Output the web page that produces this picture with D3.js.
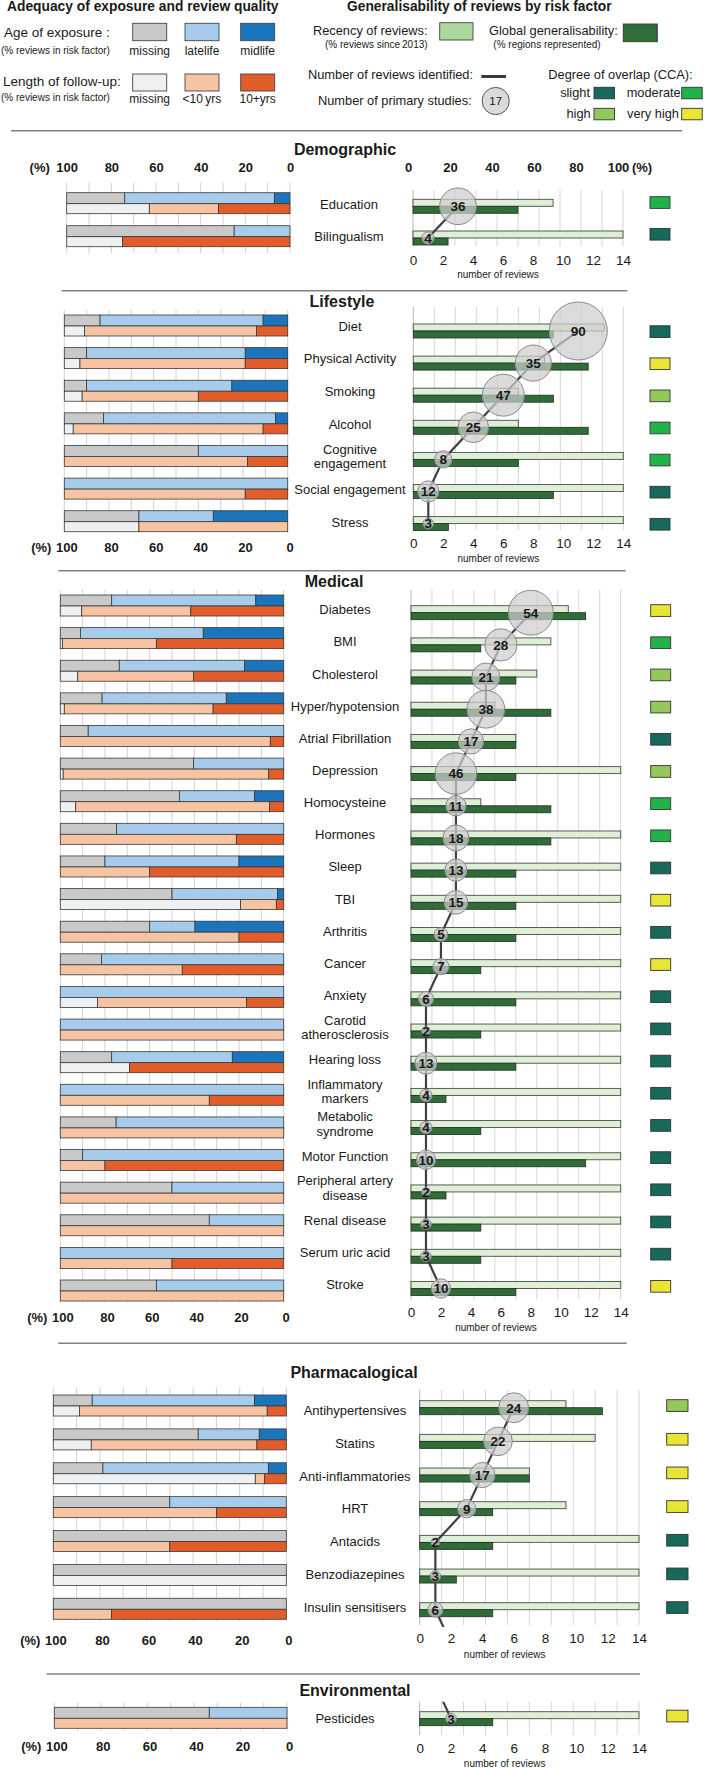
<!DOCTYPE html>
<html><head><meta charset="utf-8">
<script src="https://cdn.jsdelivr.net/npm/d3@7"></script>
<style>
body{margin:0;background:#fff}
svg{display:block}
text{font-family:"Liberation Sans",Arial,Helvetica,sans-serif;fill:#1a1a1a}
</style>
</head><body>
<svg id="chart" width="708" height="1768"></svg>
<script>
// ---------------- DATA ----------------
const sectionNames = ["Demographic","Lifestyle","Medical","Pharmacalogical","Environmental"];
const riskFactors = [
 "Education","Bilingualism",
 "Diet","Physical Activity","Smoking","Alcohol","Cognitive\nengagement","Social engagement","Stress",
 "Diabetes","BMI","Cholesterol","Hyper/hypotension","Atrial Fibrillation","Depression","Homocysteine",
 "Hormones","Sleep","TBI","Arthritis","Cancer","Anxiety","Carotid\natherosclerosis","Hearing loss",
 "Inflammatory\nmarkers","Metabolic\nsyndrome","Motor Function","Peripheral artery\ndisease",
 "Renal disease","Serum uric acid","Stroke",
 "Antihypertensives","Statins","Anti-inflammatories","HRT","Antacids","Benzodiazepines","Insulin sensitisers",
 "Pesticides"
];
const factorSection = [0,0, 1,1,1,1,1,1,1, 2,2,2,2,2,2,2,2,2,2,2,2,2,2,2,2,2,2,2,2,2,2, 3,3,3,3,3,3,3, 4];
// Age of exposure (% reviews): missing, latelife, midlife
const ageMissing  = [26,75, 16,10,10,17.6,60,0,33.4, 23,9,26.4,18.7,12.5,59.6,53.3,25.2,20,50,40,18.5,0,0,23,0,25,10,50,66.7,0,43, 16.7,62.2,21.3,50,100,100,100, 66.6];
const ageLatelife = [67,25, 73,71,65,77,40,100,33.3, 64.5,55,56.1,55.6,87.5,40.4,33.6,74.8,60,47.2,20.3,81.5,100,100,54,100,75,90,50,33.3,100,57, 69.6,26.2,71,50,0,0,0, 33.4];
const ageMidlife  = [7,0, 11,19,25,5.4,0,0,33.3, 12.5,36,17.5,25.7,0,0,13.1,0,20,2.8,39.7,0,0,0,23,0,0,0,0,0,0,0, 13.7,11.6,7.7,0,0,0,0, 0];
// Length of follow-up (% reviews): missing, <10yrs, 10+yrs
const fuMissing = [37,25, 9,7,8,4,0,0,33.4, 9.6,1,7.8,1.8,0,1.3,6.9,0,0,80.7,0,0,16.7,0,31,0,0,0,0,0,0,0, 11.2,16.3,86.7,0,0,100,0, 0];
const fuUnder10 = [31,0, 77,74,52,85,82,81,66.6, 48.8,42,51.8,66.6,94,92,86.7,78.8,40,16,80,54.6,66.7,100,0,66.7,100,20,100,100,50,100, 80.6,71.1,3.9,70,50,0,25, 100];
const fuOver10  = [32,75, 14,19,40,11,18,19,0, 41.6,57,40.4,31.6,6,6.7,6.4,21.2,60,3.3,20,45.4,16.6,0,69,33.3,0,80,0,0,50,0, 8.2,12.6,9.4,30,50,0,75, 0];
// Generalisability
const recencyPct = [66.7,100, 90.9,62.5,50,50,100,100,100, 75,66.7,60,40,50,100,33.3,100,100,100,100,100,100,100,100,100,100,100,100,100,100,100, 66.7,80,50,66.7,100,100,100, 100];
const globalPct  = [50,16.7, 66.7,83.3,66.7,83.3,50,66.7,16.7, 83.3,33.3,50,66.7,50,50,66.7,66.7,50,50,50,33.3,50,33.3,50,16.7,33.3,83.3,16.7,33.3,33.3,50, 83.3,33.3,50,33.3,33.3,16.7,33.3, 33.3];
const numReviews = [3,1, 11,8,6,4,2,1,1, 8,6,5,5,4,3,3,3,3,3,2,2,1,1,1,1,1,1,1,1,1,2, 6,5,4,3,1,1,1, 2];
const numStudies = [36,4, 90,35,47,25,8,12,3, 54,28,21,38,17,46,11,18,13,15,5,7,6,2,13,4,4,10,2,3,3,10, 24,22,17,9,2,3,6, 3];
const ccaLevel = ["moderate","slight",
 "slight","very high","high","moderate","moderate","slight","slight",
 "very high","moderate","high","high","slight","high","moderate","moderate","slight","very high","slight","very high",
 "slight","slight","slight","slight","slight","slight","slight","slight","slight","very high",
 "high","very high","very high","very high","slight","slight","slight",
 "very high"];
const leftTicks = [100,80,60,40,20,0];
const rightPctTicks = [0,20,40,60,80,100];
const reviewTicks = [0,2,4,6,8,10,12,14];
const ccaLegend = ["slight","moderate","high","very high"];
const legendStudies = 17;
const pharmaLineNext = 2;   // line continues off-panel towards next value
const envLinePrev = 1;      // line enters from previous value

// ---------------- STYLE / LAYOUT ----------------
const ageColors = ["#c9c9c9","#a6cbeb","#1b75bc"];
const fuColors  = ["#eef0f2","#f6c4a2","#e35d2b"];
const recencyColor = "#ddefd4", recencyLegendColor = "#add89d";
const globalColor = "#2e6d36";
const ccaColors = {"slight":"#17695b","moderate":"#22b24c","high":"#93c95b","very high":"#e9e535"};

const layout = [
 {sepY:130.7, sepX:[11,682], titleX:345, titleY:155, lx:[66.7,290], lTop:192.7, lPitch:33, lGrid:[182.7,253.3],
  rx:[413,623], rTop:199.3, rPitch:31.7, rGrid:[190,246], topAxisY:172.3, lAxisY:null, rAxisY:265, nrY:278.3,
  ccaX:650, ccaW:20, ccaDy:-2.6, labelX:349, labY:209, labPitch:31.7},
 {sepY:290.7, sepX:[61.7,627.3], titleX:342, titleY:307, lx:[64.3,287.7], lTop:315, lPitch:32.62, lGrid:[310,531],
  rx:[413.3,623.3], rTop:324, rPitch:32.1, rGrid:[306.7,530], lAxisY:551.7, rAxisY:548.3, nrY:561.7,
  ccaX:650, ccaW:20, ccaDy:1.8, labelX:350, labY:330.7, labPitch:32.67},
 {sepY:570.7, sepX:[58.3,625.7], titleX:334, titleY:587, lx:[60.3,283.7], lTop:595, lPitch:32.62, lGrid:[590,1302.7],
  rx:[411,620.7], rTop:605.7, rPitch:32.18, rGrid:[590,1299.3], lAxisY:1321.7, rAxisY:1316.7, nrY:1331,
  ccaX:650.7, ccaW:20, ccaDy:-1, labelX:345, labY:614.3, labPitch:32.14},
 {sepY:1343.3, sepX:[58.3,626.7], titleX:354, titleY:1378.3, lx:[53.3,286.3], lTop:1395, lPitch:33.88, lGrid:[1387.3,1621],
  rx:[419.7,639], rTop:1400.7, rPitch:33.67, rGrid:[1390,1625], lAxisY:1645, rAxisY:1643.3, nrY:1658.3,
  ccaX:666.7, ccaW:21.3, ccaDy:-1, labelX:355, labY:1415, labPitch:32.8, clipBottom:1627},
 {sepY:1674, sepX:[46.7,640], titleX:355, titleY:1696, lx:[54.3,287], lTop:1707.3, lPitch:34, lGrid:[1702.7,1730.7],
  rx:[419.7,639], rTop:1711.7, rPitch:34, rGrid:[1701.7,1735], lAxisY:1750.7, rAxisY:1753.3, nrY:1766.7,
  ccaX:666.7, ccaW:21.3, ccaDy:-1.5, labelX:345, labY:1723.3, labPitch:34, clipTop:1701.7}
];

const svg = d3.select("#chart");
const rScale = d3.scaleSqrt().domain([0,90]).range([0,29]);

// ---------------- LEGEND ----------------
const lg = svg.append("g");
lg.append("text").attr("x",7).attr("y",10.5).attr("font-size",13.8).attr("font-weight","bold").text("Adequacy of exposure and review quality");
lg.append("text").attr("x",4).attr("y",36.5).attr("font-size",13.5).text("Age of exposure :");
lg.append("text").attr("x",1).attr("y",53.5).attr("font-size",10).text("(% reviews in risk factor)");
lg.append("text").attr("x",3).attr("y",85.5).attr("font-size",13.5).text("Length of follow-up:");
lg.append("text").attr("x",1).attr("y",100.5).attr("font-size",10).text("(% reviews in risk factor)");
const swX = [132.7,185,240.7];
const ageLab = ["missing","latelife","midlife"], fuLab = ["missing","<10\u2009yrs","10+yrs"];
swX.forEach((x,j)=>{
  lg.append("rect").attr("x",x).attr("y",23.3).attr("width",34).attr("height",17.4).attr("fill",ageColors[j]).attr("stroke","#444").attr("stroke-width",0.9);
  lg.append("text").attr("x",x+17).attr("y",55).attr("text-anchor","middle").attr("font-size",12).text(ageLab[j]);
  lg.append("rect").attr("x",x).attr("y",74).attr("width",34).attr("height",17).attr("fill",fuColors[j]).attr("stroke","#444").attr("stroke-width",0.9);
  lg.append("text").attr("x",x+17).attr("y",103).attr("text-anchor","middle").attr("font-size",12).text(fuLab[j]);
});
lg.append("text").attr("x",347).attr("y",10.5).attr("font-size",13.8).attr("font-weight","bold").text("Generalisability of reviews by risk factor");
lg.append("text").attr("x",313).attr("y",35).attr("font-size",12.8).text("Recency of reviews:");
lg.append("text").attr("x",325).attr("y",47.5).attr("font-size",10).text("(% reviews since\u20092013)");
lg.append("rect").attr("x",439.7).attr("y",22.7).attr("width",33.3).attr("height",17.3).attr("fill",recencyLegendColor).attr("stroke","#444").attr("stroke-width",0.9);
lg.append("text").attr("x",489).attr("y",35).attr("font-size",12.8).text("Global generalisability:");
lg.append("text").attr("x",547).attr("y",47.5).attr("text-anchor","middle").attr("font-size",10).text("(% regions represented)");
lg.append("rect").attr("x",623.3).attr("y",24).attr("width",34).attr("height",17.7).attr("fill",globalColor).attr("stroke","#333").attr("stroke-width",0.9);
lg.append("text").attr("x",308).attr("y",78.5).attr("font-size",12.8).text("Number of reviews identified:");
lg.append("line").attr("x1",481.3).attr("x2",506).attr("y1",76.5).attr("y2",76.5).attr("stroke","#3a3a3a").attr("stroke-width",3);
lg.append("text").attr("x",318).attr("y",105).attr("font-size",12.8).text("Number of primary studies:");
lg.append("circle").attr("cx",495.7).attr("cy",101).attr("r",rScale(legendStudies)+1).attr("fill","#dadada").attr("stroke","#555").attr("stroke-width",1);
lg.append("text").attr("x",495.7).attr("y",105).attr("text-anchor","middle").attr("font-size",11.5).text(legendStudies);
lg.append("text").attr("x",548.3).attr("y",78.5).attr("font-size",12.8).text("Degree of overlap (CCA):");
const ccaLegPos = [{tx:590,sx:594,ty:97,sy:87.3},{tx:680.7,sx:681.7,ty:97,sy:87.3},{tx:590.7,sx:594,ty:117.5,sy:108.3},{tx:679,sx:681.7,ty:117.5,sy:108.3}];
ccaLegend.forEach((c,j)=>{
  const p = ccaLegPos[j];
  lg.append("text").attr("x",p.tx).attr("y",p.ty).attr("text-anchor","end").attr("font-size",12.8).text(c);
  lg.append("rect").attr("x",p.sx).attr("y",p.sy).attr("width",20.5).attr("height",11.5).attr("fill",ccaColors[c]).attr("stroke","#333").attr("stroke-width",0.9);
});

// ---------------- SECTIONS ----------------
const defs = svg.append("defs");
sectionNames.forEach((name, si) => {
  const L = layout[si];
  const idx = riskFactors.map((d,i)=>i).filter(i=>factorSection[i]===si);
  const g = svg.append("g");
  const xL = d3.scaleLinear().domain([100,0]).range(L.lx);
  const xR = d3.scaleLinear().domain([0,100]).range(L.rx);
  const xN = d3.scaleLinear().domain([0,14]).range(L.rx);

  g.append("line").attr("x1",L.sepX[0]).attr("x2",L.sepX[1]).attr("y1",L.sepY).attr("y2",L.sepY)
    .attr("stroke","#808080").attr("stroke-width",1.5);
  g.append("text").attr("x",L.titleX).attr("y",L.titleY).attr("text-anchor","middle")
    .attr("font-size",16).attr("font-weight","bold").text(name);

  // grids
  g.selectAll(".lgrid").data(d3.range(0,101,10)).join("line").attr("class","lgrid")
    .attr("x1",d=>xL(d)).attr("x2",d=>xL(d)).attr("y1",L.lGrid[0]).attr("y2",L.lGrid[1])
    .attr("stroke","#d2d2d2").attr("stroke-width",1);
  g.selectAll(".rgrid").data(d3.range(0,101,10)).join("line").attr("class","rgrid")
    .attr("x1",d=>xR(d)).attr("x2",d=>xR(d)).attr("y1",L.rGrid[0]).attr("y2",L.rGrid[1])
    .attr("stroke",d=>d===0?"#b8b8b8":"#d6d6d6").attr("stroke-width",1);

  // left stacked bars
  idx.forEach((fi,k)=>{
    const top = L.lTop + k*L.lPitch;
    const rows = [
      {vals:[ageMissing[fi],ageLatelife[fi],ageMidlife[fi]], cols:ageColors, y:top, h:11},
      {vals:[fuMissing[fi],fuUnder10[fi],fuOver10[fi]], cols:fuColors, y:top+11, h:10}
    ];
    rows.forEach(r=>{
      let acc = 100;
      r.vals.forEach((v,j)=>{
        if (v>0.05) {
          g.append("rect").attr("x",xL(acc)).attr("width",xL(acc-v)-xL(acc))
            .attr("y",r.y).attr("height",r.h).attr("fill",r.cols[j])
            .attr("stroke","#3a3a3a").attr("stroke-width",0.8);
        }
        acc -= v;
      });
    });
    // label
    const lines = riskFactors[fi].split("\n");
    const by = L.labY + k*L.labPitch;
    const t = g.append("text").attr("x",L.labelX).attr("text-anchor","middle").attr("font-size",13);
    if (lines.length===1) t.attr("y",by).text(lines[0]);
    else lines.forEach((ln,j)=>t.append("tspan").attr("x",L.labelX).attr("y",by-7.5+j*14.5).text(ln));
  });

  // right bars
  idx.forEach((fi,k)=>{
    const top = L.rTop + k*L.rPitch;
    g.append("rect").attr("x",xR(0)).attr("y",top).attr("width",xR(recencyPct[fi])-xR(0)).attr("height",7)
      .attr("fill",recencyColor).attr("stroke","#4a4a4a").attr("stroke-width",0.9);
    g.append("rect").attr("x",xR(0)).attr("y",top+7).attr("width",xR(globalPct[fi])-xR(0)).attr("height",7)
      .attr("fill",globalColor).attr("stroke","#2a2a2a").attr("stroke-width",0.8);
    g.append("rect").attr("x",L.ccaX).attr("y",top+L.ccaDy).attr("width",L.ccaW).attr("height",11.7)
      .attr("fill",ccaColors[ccaLevel[fi]]).attr("stroke","#333").attr("stroke-width",0.9);
  });

  // line of number of reviews
  const pts = idx.map((fi,k)=>[xN(numReviews[fi]), L.rTop + k*L.rPitch + 7]);
  if (L.clipBottom) pts.push([xN(pharmaLineNext), L.rTop + idx.length*L.rPitch + 7]);
  if (L.clipTop) pts.unshift([xN(envLinePrev), L.rTop - L.rPitch + 7]);
  const path = g.append("path").attr("d", d3.line()(pts)).attr("fill","none")
    .attr("stroke","#404040").attr("stroke-width",2.2);
  if (L.clipBottom || L.clipTop) {
    const id = "clip"+si;
    const y0 = L.clipTop || L.sepY, y1 = L.clipBottom || 1768;
    defs.append("clipPath").attr("id",id).append("rect").attr("x",0).attr("y",y0).attr("width",708).attr("height",y1-y0);
    path.attr("clip-path",`url(#${id})`);
  }
  // circles
  idx.forEach((fi,k)=>{
    const cy = L.rTop + k*L.rPitch + 7, cx = xN(numReviews[fi]);
    g.append("circle").attr("cx",cx).attr("cy",cy).attr("r",rScale(numStudies[fi]))
      .attr("fill","#cdcdcd").attr("fill-opacity",0.72).attr("stroke","#8a8a8a").attr("stroke-width",1);
  });
  idx.forEach((fi,k)=>{
    const cy = L.rTop + k*L.rPitch + 7, cx = xN(numReviews[fi]);
    g.append("text").attr("x",cx).attr("y",cy+4.8).attr("text-anchor","middle")
      .attr("font-size",13.5).attr("font-weight","bold").attr("fill","#111").text(numStudies[fi]);
  });

  // axes
  const styleAxis = (sel, size, weight) => {
    sel.select(".domain").remove();
    sel.selectAll(".tick line").remove();
    sel.selectAll("text").attr("dy",null).attr("y",0).attr("font-size",size).attr("font-weight",weight)
      .attr("fill","#1a1a1a").style("font-family",'"Liberation Sans",Arial,sans-serif');
  };
  if (L.topAxisY) {
    const a1 = g.append("g").attr("transform",`translate(0,${L.topAxisY})`)
      .call(d3.axisTop(xL).tickValues(leftTicks).tickSize(0).tickPadding(0));
    styleAxis(a1, 13, "bold");
    g.append("text").attr("x",xL(100)-27).attr("y",L.topAxisY).attr("text-anchor","middle").attr("font-size",13).attr("font-weight","bold").text("(%)");
    const a2 = g.append("g").attr("transform",`translate(-5,${L.topAxisY})`)
      .call(d3.axisTop(xR).tickValues(rightPctTicks).tickSize(0).tickPadding(0));
    styleAxis(a2, 13, "bold");
    g.append("text").attr("x",xR(100)+19).attr("y",L.topAxisY).attr("text-anchor","middle").attr("font-size",13).attr("font-weight","bold").text("(%)");
  }
  if (L.lAxisY) {
    const a3 = g.append("g").attr("transform",`translate(2,${L.lAxisY})`)
      .call(d3.axisBottom(xL).tickValues(leftTicks).tickSize(0).tickPadding(0));
    styleAxis(a3, 13, "bold");
    g.append("text").attr("x",xL(100)-23).attr("y",L.lAxisY).attr("text-anchor","middle").attr("font-size",13).attr("font-weight","bold").text("(%)");
  }
  const a4 = g.append("g").attr("transform",`translate(0,${L.rAxisY})`)
    .call(d3.axisBottom(xN).tickValues(reviewTicks).tickSize(0).tickPadding(0));
  styleAxis(a4, 13.5, "normal");
  g.append("text").attr("x",L.rx[0]+85).attr("y",L.nrY).attr("text-anchor","middle").attr("font-size",10).text("number of reviews");
});
</script>
</body></html>
